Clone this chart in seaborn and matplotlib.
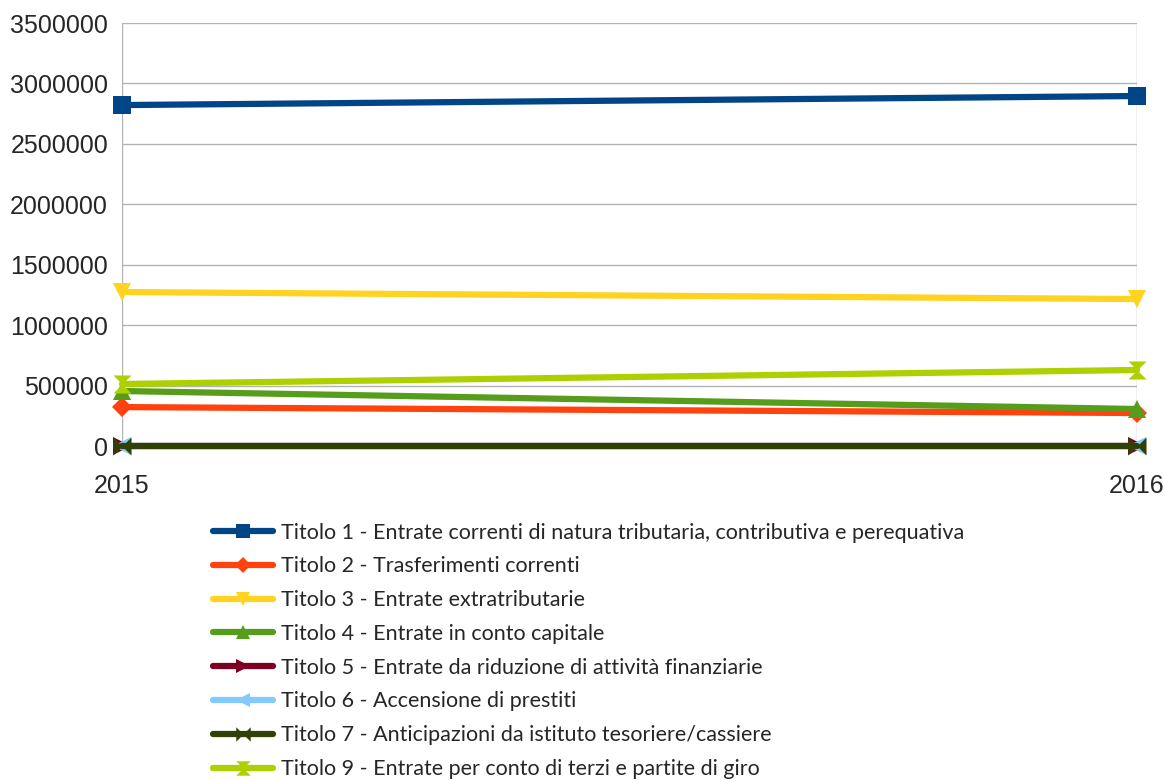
import numpy as np
import pandas as pd
import matplotlib
matplotlib.use("Agg")
import matplotlib.pyplot as plt
from matplotlib.path import Path
import seaborn as sns

# Data
years = [2015, 2016]
labels = [
    "Titolo 1 - Entrate correnti di natura tributaria, contributiva e perequativa",
    "Titolo 2 - Trasferimenti correnti",
    "Titolo 3 - Entrate extratributarie",
    "Titolo 4 - Entrate in conto capitale",
    "Titolo 5 - Entrate da riduzione di attività finanziarie",
    "Titolo 6 - Accensione di prestiti",
    "Titolo 7 - Anticipazioni da istituto tesoriere/cassiere",
    "Titolo 9 - Entrate per conto di terzi e partite di giro",
]
titolo1 = [2821000, 2896000]
titolo2 = [322000, 273000]
titolo3 = [1274000, 1216000]
titolo4 = [455000, 306000]
titolo5 = [0, 0]
titolo6 = [0, 0]
titolo7 = [0, 0]
titolo9 = [513000, 629000]
series = [titolo1, titolo2, titolo3, titolo4, titolo5, titolo6, titolo7, titolo9]

colors = ["#004586", "#ff420e", "#ffd320", "#579d1c", "#7e0021", "#83caff", "#314004", "#aecf00"]

bowtie = Path([(-1, -1), (1, 1), (1, -1), (-1, 1), (-1, -1)],
              [Path.MOVETO, Path.LINETO, Path.LINETO, Path.LINETO, Path.CLOSEPOLY])
hourglass = Path([(-1, 1), (1, 1), (-1, -1), (1, -1), (-1, 1)],
                 [Path.MOVETO, Path.LINETO, Path.LINETO, Path.LINETO, Path.CLOSEPOLY])
markers = ["s", "D", "v", "^", ">", "<", bowtie, hourglass]
msizes = [13, 10, 13, 13, 13, 13, 13, 13]

df = pd.DataFrame({"anno": np.tile(years, len(series)),
                   "valore": np.concatenate(series),
                   "titolo": np.repeat(labels, len(years))})

sns.set_style("white")
plt.rcParams["font.family"] = ["Liberation Sans", "DejaVu Sans"]

fig = plt.figure(figsize=(11.64, 7.8), dpi=100)
ax = fig.add_axes([0.1048, 0.4282, 0.8720, 0.5423])

for lab, col, mk, ms in zip(labels, colors, markers, msizes):
    sub = df[df["titolo"] == lab]
    sns.lineplot(data=sub, x="anno", y="valore", ax=ax, color=col, marker=mk,
                 markersize=ms, markeredgewidth=0, linewidth=4.5, label=lab,
                 clip_on=False, legend=False)

ax.set_xlim(2015, 2016)
ax.set_ylim(0, 3500000)
ax.set_xticks(years)
ax.set_xticklabels([str(y) for y in years])
ax.set_yticks(np.arange(0, 3500001, 500000))
ax.set_yticklabels([str(v) for v in range(0, 3500001, 500000)])
ax.set_xlabel("")
ax.set_ylabel("")
ax.grid(True, color="#b3b3b3", linewidth=1)
ax.set_axisbelow(True)
for s in ax.spines.values():
    s.set_visible(False)
ax.tick_params(axis="both", length=6, color="#b3b3b3", labelsize=18, pad=4)
ax.tick_params(axis="x", pad=14)

handles, labs = ax.get_legend_handles_labels()
fig.legend(handles, labs, loc="upper left", bbox_to_anchor=(0.183, 0.330),
           frameon=False, prop={"family": "Lato", "size": 15.5},
           handlelength=2.8, labelspacing=0.64, markerscale=0.8,
           handletextpad=0.37, borderaxespad=0, borderpad=0)

fig.savefig("out.png", dpi=100)
